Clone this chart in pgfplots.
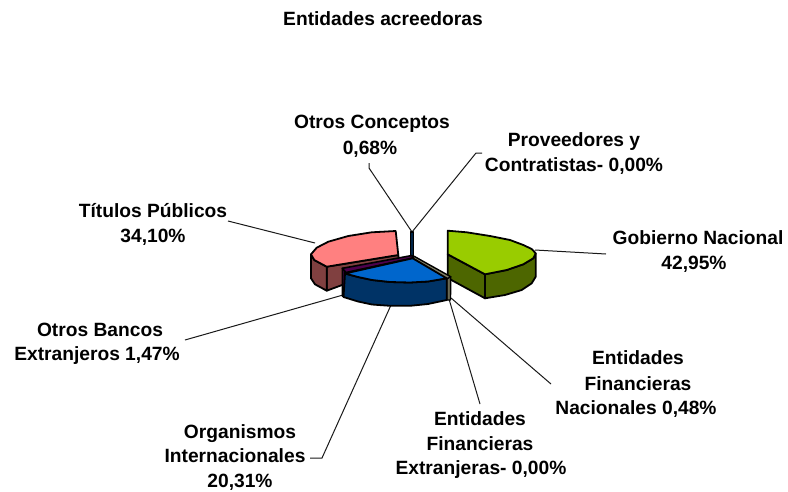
\documentclass[border=0pt]{standalone}
\usepackage{pgfplots}
\usepackage{fontspec}
\setmainfont{Liberation Sans}
\pgfplotsset{compat=1.18}
\definecolor{gT}{HTML}{99CC00}\definecolor{gS}{HTML}{4D6600}
\definecolor{pT}{HTML}{FF8080}\definecolor{pS}{HTML}{804040}
\definecolor{bT}{HTML}{0066CC}\definecolor{bS}{HTML}{003366}
\definecolor{vT}{HTML}{4D004D}\definecolor{vS}{HTML}{330033}
\definecolor{oT}{HTML}{808066}\definecolor{oS}{HTML}{6B6B55}
\tikzset{edge/.style={draw=black,line width=1.8pt,line join=round},
  lead/.style={draw=black!90,line width=1pt},
  lab/.style={font=\fontsize{19.2}{19.2}\selectfont\bfseries,anchor=base,inner sep=0pt,text=black}}
\begin{document}
\begin{tikzpicture}
\useasboundingbox (0,0) rectangle (788pt,491pt);
\begin{axis}[at={(0,0)},anchor=south west,width=788pt,height=491pt,scale only axis,xmin=0,xmax=788,ymin=0,ymax=491,y dir=reverse,axis lines=none,clip=false,no marks]
% leader lines
\addplot[lead] coordinates {(369,163)(369,168)(412,232)};
\addplot[lead] coordinates {(482,153)(476,153)(412,232)};
\addplot[lead] coordinates {(535,250)(606,254)};
\addplot[lead] coordinates {(228,221)(315,243)};
\addplot[lead] coordinates {(185,340)(343,295)};
\addplot[lead] coordinates {(310,458)(322,458)(391,305)};
\addplot[lead] coordinates {(480,404)(449,299)};
\addplot[lead] coordinates {(551,384)(451,298)};
% Titulos Publicos
\addplot[edge,fill=pS] coordinates {(326.7,266.7)(398.3,255)(399,264)(326.7,290.7)} --cycle;
\addplot[edge,fill=pS] coordinates {(311,254.3)(314.3,260)(326.7,266.7)(326.7,290.7)(315,284.3)(311,278.3)} --cycle;
\addplot[edge,fill=pT] coordinates {(398.3,255)(395.7,231)(371.7,232.3)(348.3,236)(328.3,241.7)(316.7,247.7)(311,254.3)(314.3,260)(326.7,266.7)} --cycle;
% Otros Conceptos
\addplot[edge,fill=bS!70!black,line width=1.6pt] coordinates {(410.5,232)(413.5,232)(413.5,257)(410.5,257)} --cycle;
% Gobierno Nacional
\addplot[edge,fill=gS] coordinates {(447.7,254.3)(485,274.3)(485,298.3)(447.7,278)} --cycle;
\addplot[edge,fill=gS] coordinates {(485,274.3)(506.7,270)(523.3,264.3)(533.3,258.3)(535.7,253.3)(535.7,276.7)(531.7,283.3)(521.7,290)(505,295)(485,298.3)} --cycle;
\addplot[edge,fill=gT] coordinates {(447.7,254.3)(447.7,230.7)(466.7,232.3)(490,236)(510,240)(523.3,245)(531.7,249)(535.7,253.3)(533.3,258.3)(523.3,264.3)(506.7,270)(485,274.3)} --cycle;
% Otros Bancos
\addplot[edge,fill=vS,line width=1.6pt] coordinates {(342.3,268.3)(345,269)(345,297)(342.3,296)} --cycle;
\addplot[edge,fill=vT,line width=1.6pt] coordinates {(342.3,268.3)(412,255.5)(413,258)(346,272.5)} --cycle;
% Entidades Financieras Nacionales
\addplot[edge,fill=oS,line width=1.4pt] coordinates {(446.7,278)(450.7,276.7)(450.5,300)(446.7,300)} --cycle;
\addplot[edge,fill=oT,line width=1.4pt] coordinates {(414,256.2)(450.7,276.7)(446.7,279)(412.7,258.5)} --cycle;
% Organismos
\addplot[edge,fill=bS] coordinates {(345,273.5)(358,277)(372,280)(390,282)(410,282.5)(428,281.5)(446.7,278.3)(446.7,300)(428,304)(410,305.8)(390,305.8)(372,304.5)(358,301.5)(343.5,297)} --cycle;
\addplot[edge,fill=bT] coordinates {(412.7,258.3)(345,273.5)(358,277)(372,280)(390,282)(410,282.5)(428,281.5)(446.7,278.3)} --cycle;
% labels
\node[lab] at (axis cs:383,25) {Entidades acreedoras};
\node[lab] at (axis cs:372,128) {Otros Conceptos};
\node[lab] at (axis cs:370,154) {0,68\%};
\node[lab] at (axis cs:574,146) {Proveedores y};
\node[lab] at (axis cs:574,171) {Contratistas- 0,00\%};
\node[lab] at (axis cs:698,244) {Gobierno Nacional};
\node[lab] at (axis cs:694,269) {42,95\%};
\node[lab] at (axis cs:153,217) {Títulos Públicos};
\node[lab] at (axis cs:153,242) {34,10\%};
\node[lab] at (axis cs:100,336) {Otros Bancos};
\node[lab] at (axis cs:97,360) {Extranjeros 1,47\%};
\node[lab] at (axis cs:240,438) {Organismos};
\node[lab] at (axis cs:235,462) {Internacionales};
\node[lab] at (axis cs:240,487) {20,31\%};
\node[lab] at (axis cs:480,425) {Entidades};
\node[lab] at (axis cs:480,450) {Financieras};
\node[lab] at (axis cs:481,474) {Extranjeras- 0,00\%};
\node[lab] at (axis cs:638,364) {Entidades};
\node[lab] at (axis cs:638,390) {Financieras};
\node[lab] at (axis cs:636,414) {Nacionales 0,48\%};
\end{axis}
\end{tikzpicture}
\end{document}
